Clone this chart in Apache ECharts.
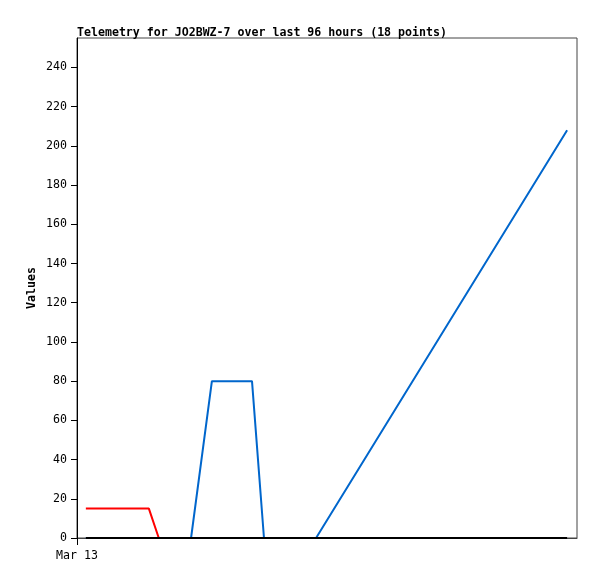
<!DOCTYPE html>
<html><head><meta charset="utf-8">
<script src="https://cdn.jsdelivr.net/npm/echarts@6/dist/echarts.min.js"></script>
<style>html,body{margin:0;padding:0;background:#fff}#c{width:597px;height:579px}</style>
</head><body><div id="c"></div>
<script>
const titleText = 'Telemetry for JO2BWZ-7 over last 96 hours (18 points)';
const yTitle = 'Values';
const xTickLabel = 'Mar 13';
// hours since start of axis
const redHours = [1.7, 13.8, 15.7];
const redValues = [15, 15, 0];
const blueHours = [1.7, 21.9, 25.9, 33.6, 35.9, 45.9, 94.1];
const blueValues = [0, 0, 80, 80, 0, 0, 208];
const blackHours = [1.7, 94.1];
const blackValues = [0, 0];

const font = '"DejaVu Sans Mono", monospace';
const fs = 11.6;
const pair = (xs, ys) => xs.map((x, i) => [x, ys[i]]);
const chart = echarts.init(document.getElementById('c'));
chart.setOption({
  animation: false,
  title: {text: titleText, left: 72, top: 22, textStyle: {fontFamily: font, fontSize: fs, fontWeight: 'bold', color: '#000'}},
  grid: {left: 77, top: 38, width: 500, height: 500, show: true, borderColor: '#444', borderWidth: 1},
  xAxis: {
    type: 'value', min: 0, max: 96, interval: 96,
    axisLine: {show: true, lineStyle: {color: '#444', width: 1}},
    axisTick: {show: true, length: 7, lineStyle: {color: '#000'}},
    splitLine: {show: false},
    axisLabel: {showMaxLabel: false, formatter: v => v === 0 ? xTickLabel : '', fontFamily: font, fontSize: fs, color: '#000', margin: 12}
  },
  yAxis: {
    type: 'value', min: 0, max: 255, interval: 20,
    name: yTitle, nameLocation: 'middle', nameGap: 39, nameMoveOverlap: false,
    nameTextStyle: {fontFamily: font, fontSize: fs, fontWeight: 'bold', color: '#000'},
    axisLine: {show: true, lineStyle: {color: '#000', width: 1}},
    axisTick: {show: true, length: 6, lineStyle: {color: '#000'}},
    splitLine: {show: false},
    axisLabel: {showMaxLabel: false, fontFamily: font, fontSize: fs, color: '#000', margin: 10}
  },
  series: [
    {type: 'line', data: pair(redHours, redValues), symbol: 'none', lineStyle: {color: '#ff0000', width: 2}},
    {type: 'line', data: pair(blueHours, blueValues), symbol: 'none', lineStyle: {color: '#0066cc', width: 2}},
    {type: 'line', data: pair(blackHours, blackValues), symbol: 'none', lineStyle: {color: '#000000', width: 2}}
  ]
});
</script></body></html>
